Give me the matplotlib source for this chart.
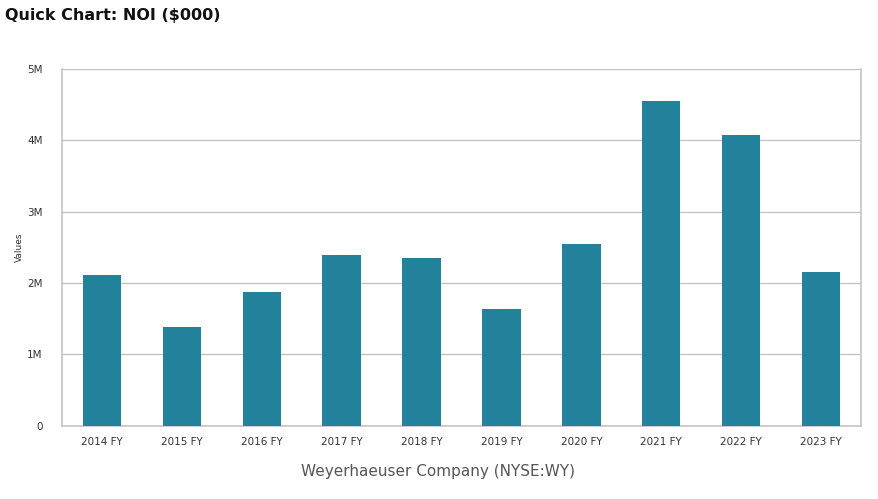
from matplotlib import pyplot as plt
from matplotlib.ticker import FuncFormatter

years = ['2014 FY', '2015 FY', '2016 FY', '2017 FY', '2018 FY',
         '2019 FY', '2020 FY', '2021 FY', '2022 FY', '2023 FY']
noi = [2.11e6, 1.38e6, 1.87e6, 2.39e6, 2.35e6,
       1.63e6, 2.54e6, 4.545e6, 4.07e6, 2.15e6]

bar_color = '#23829b'
grid_color = '#c4c4c4'


def fmt_millions(v, pos):
    if v == 0:
        return '0'
    return f'{v / 1e6:g}M'


def plot_noi():
    fig = plt.figure(figsize=(8.79, 4.99), dpi=100)
    ax = fig.add_axes([0.0705, 0.1463, 0.909, 0.7164])

    x = list(range(len(years)))
    ax.bar(x, noi, width=0.48, color=bar_color, zorder=3)

    ax.set_xlim(-0.5, len(years) - 0.5)
    ax.set_ylim(0, 5e6)
    ax.set_yticks([0, 1e6, 2e6, 3e6, 4e6, 5e6])
    ax.yaxis.set_major_formatter(FuncFormatter(fmt_millions))
    ax.set_xticks(x)
    ax.set_xticklabels(years)

    ax.grid(axis='y', color=grid_color, linewidth=1, zorder=0)
    for side in ['left', 'right', 'bottom']:
        ax.spines[side].set_color(grid_color)
        ax.spines[side].set_linewidth(1.2)
    ax.spines['top'].set_visible(False)

    ax.tick_params(axis='both', length=0, labelsize=7.5, labelcolor='#333333')
    ax.tick_params(axis='y', pad=14)
    ax.tick_params(axis='x', pad=8)

    ax.set_ylabel('Values', fontsize=6.5, color='#333333')
    ax.yaxis.set_label_coords(-0.047, 0.5)
    ax.set_xlabel('Weyerhaeuser Company (NYSE:WY)', fontsize=11,
                  color='#555555')
    ax.xaxis.set_label_coords(0.47, -0.105)

    fig.text(0.006, 0.968, 'Quick Chart: NOI ($000)', fontsize=11.5,
             fontweight='bold', color='#111111', va='center', ha='left')

    fig.savefig('out.png', dpi=100)


def main():
    plot_noi()


if __name__ == "__main__":
    main()
